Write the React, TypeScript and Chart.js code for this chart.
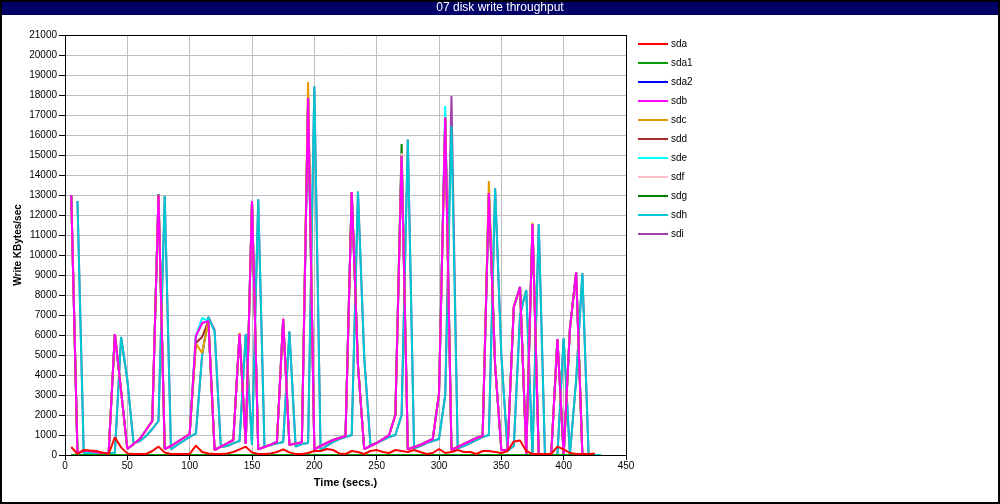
import React, { useEffect, useRef } from "react";
import { Chart, registerables } from "chart.js";
Chart.register(...registerables);

const TITLE = "07 disk write throughput";
const X_TITLE = "Time (secs.)";
const Y_TITLE = "Write KBytes/sec";
const FONT = "'Liberation Sans', Arial, Helvetica, sans-serif";

// sample times (secs) for the two groups of disks
const timesA = [
  5, 10, 15, 20, 25, 30, 35, 40, 45, 50,
  55, 60, 65, 70, 75, 80, 85, 90, 95, 100,
  105, 110, 115, 120, 125, 130, 135, 140, 145, 150,
  155, 160, 165, 170, 175, 180, 185, 190, 195, 200,
  205, 210, 215, 220, 225, 230, 235, 240, 245, 250,
  255, 260, 265, 270, 275, 280, 285, 290, 295, 300,
  305, 310, 315, 320, 325, 330, 335, 340, 345, 350,
  355, 360, 365, 370, 375, 380, 385, 390, 395, 400,
  405, 410, 415, 420, 425,
];
const timesB = [
  10, 15, 20, 25, 30, 35, 40, 45, 50, 55,
  60, 65, 70, 75, 80, 85, 90, 95, 100, 105,
  110, 115, 120, 125, 130, 135, 140, 145, 150, 155,
  160, 165, 170, 175, 180, 185, 190, 195, 200, 205,
  210, 215, 220, 225, 230, 235, 240, 245, 250, 255,
  260, 265, 270, 275, 280, 285, 290, 295, 300, 305,
  310, 315, 320, 325, 330, 335, 340, 345, 350, 355,
  360, 365, 370, 375, 380, 385, 390, 395, 400, 405,
  410, 415, 420, 425, 430,
];

const sda = [
  400, 50, 250, 220, 200, 120, 50, 880, 380, 80,
  50, 50, 50, 200, 420, 120, 50, 50, 50, 50,
  470, 150, 80, 50, 50, 80, 150, 280, 420, 120,
  50, 50, 80, 150, 280, 130, 50, 50, 100, 200,
  200, 300, 250, 80, 50, 200, 150, 50, 200, 250,
  150, 100, 250, 200, 150, 250, 150, 50, 100, 300,
  100, 150, 250, 150, 150, 50, 200, 200, 150, 100,
  200, 680, 720, 200, 50, 50, 50, 50, 420, 280,
  100, 50, 50, 50, 80,
];
const sda1 = [
  0, 0, 0, 0, 0, 0, 0, 0, 0, 0,
  0, 0, 0, 0, 0, 0, 0, 0, 0, 0,
  0, 0, 0, 0, 0, 0, 0, 0, 0, 0,
  0, 0, 0, 0, 0, 0, 0, 0, 0, 0,
  0, 0, 0, 0, 0, 0, 0, 0, 0, 0,
  0, 0, 0, 0, 0, 0, 0, 0, 0, 0,
  0, 0, 0, 0, 0, 0, 0, 0, 0, 0,
  0, 0, 0, 0, 0, 0, 0, 0, 0, 0,
  0, 0, 0, 0, 0,
];
const sda2 = [
  0, 0, 0, 0, 0, 0, 0, 0, 0, 0,
  0, 0, 0, 0, 0, 0, 0, 0, 0, 0,
  0, 0, 0, 0, 0, 0, 0, 0, 0, 0,
  0, 0, 0, 0, 0, 0, 0, 0, 0, 0,
  0, 0, 0, 0, 0, 0, 0, 0, 0, 0,
  0, 0, 0, 0, 0, 0, 0, 0, 0, 0,
  0, 0, 0, 0, 0, 0, 0, 0, 0, 0,
  0, 0, 0, 0, 0, 0, 0, 0, 0, 0,
  0, 0, 0, 0, 0,
];
const sdb = [
  13000, 100, 200, 200, 150, 100, 100, 6050, 3200, 300,
  550, 800, 1250, 1700, 13000, 300, 450, 650, 850, 1050,
  5950, 6600, 6700, 250, 420, 580, 750, 6050, 550, 12700,
  280, 400, 520, 650, 6800, 500, 580, 620, 17850, 280,
  450, 600, 750, 850, 950, 13150, 4500, 300, 450, 600,
  800, 1000, 2000, 14950, 280, 400, 500, 650, 800, 3050,
  16870, 250, 400, 550, 700, 850, 950, 13100, 4500, 250,
  250, 7400, 8400, 50, 11550, 0, 0, 0, 5800, 0,
  6300, 9130, 0, 0, 0,
];
const sdc = [
  13000, 100, 200, 200, 150, 100, 100, 6050, 3200, 300,
  550, 800, 1250, 1700, 13000, 300, 450, 650, 850, 1050,
  5580, 5100, 6700, 250, 420, 580, 750, 6100, 550, 12700,
  280, 400, 520, 650, 6800, 500, 580, 620, 18650, 280,
  450, 600, 750, 850, 950, 13150, 4500, 300, 450, 600,
  800, 1000, 2000, 14950, 280, 400, 500, 650, 800, 3050,
  16870, 250, 400, 550, 700, 850, 950, 13700, 4500, 250,
  250, 7400, 8400, 50, 11620, 0, 0, 0, 5800, 0,
  6300, 9130, 0, 0, 0,
];
const sdd = [
  13000, 100, 200, 200, 150, 100, 100, 6050, 3200, 300,
  550, 800, 1250, 1700, 13000, 300, 450, 650, 850, 1050,
  5600, 5900, 6700, 250, 420, 580, 750, 6050, 550, 12700,
  280, 400, 520, 650, 6800, 500, 580, 620, 17850, 280,
  450, 600, 750, 850, 950, 13150, 4500, 300, 450, 600,
  800, 1000, 2000, 14950, 280, 400, 500, 650, 800, 3050,
  16870, 250, 400, 550, 700, 850, 950, 13100, 4500, 250,
  250, 7400, 8400, 50, 11550, 0, 0, 0, 5800, 0,
  6300, 9130, 0, 0, 0,
];
const sde = [
  13000, 100, 200, 200, 150, 100, 100, 6050, 3200, 300,
  550, 800, 1250, 1700, 13000, 300, 450, 650, 850, 1050,
  5950, 6850, 6700, 250, 420, 580, 750, 6050, 550, 12700,
  280, 400, 520, 650, 6800, 500, 580, 620, 17850, 280,
  450, 600, 750, 850, 950, 13150, 4500, 300, 450, 600,
  800, 1000, 2000, 14950, 280, 400, 500, 650, 800, 3050,
  17450, 250, 400, 550, 700, 850, 950, 13100, 4500, 250,
  250, 7400, 8400, 50, 11550, 0, 0, 0, 5800, 0,
  6300, 9130, 0, 0, 0,
];
const sdf = [
  13000, 100, 200, 200, 150, 100, 100, 6050, 3200, 300,
  550, 800, 1250, 1700, 13000, 300, 450, 650, 850, 1050,
  5950, 6600, 6700, 250, 420, 580, 750, 6120, 550, 12700,
  280, 400, 520, 650, 6900, 500, 580, 620, 17850, 280,
  450, 600, 750, 850, 950, 13150, 4500, 300, 450, 600,
  800, 1000, 2000, 15100, 280, 400, 500, 650, 800, 3050,
  16870, 250, 400, 550, 700, 850, 950, 13100, 4500, 250,
  250, 7400, 8400, 50, 11550, 0, 0, 0, 5800, 0,
  6300, 9130, 0, 0, 0,
];
const sdg = [
  13000, 100, 200, 200, 150, 100, 100, 6050, 3200, 300,
  550, 800, 1250, 1700, 13050, 300, 450, 650, 850, 1050,
  5950, 6600, 6700, 250, 420, 580, 750, 6050, 550, 12700,
  280, 400, 520, 650, 6800, 500, 580, 620, 17850, 280,
  450, 600, 750, 850, 950, 13150, 4500, 300, 450, 600,
  800, 1000, 2000, 15550, 280, 400, 500, 650, 800, 3050,
  16870, 250, 400, 550, 700, 850, 950, 13100, 4500, 250,
  250, 7400, 8400, 50, 11550, 0, 0, 0, 5800, 0,
  6300, 9130, 0, 0, 0,
];
const sdh = [
  12700, 100, 100, 100, 100, 100, 100, 5900, 3750, 580,
  700, 950, 1300, 1700, 12950, 280, 500, 700, 900, 1080,
  5000, 6900, 6170, 400, 450, 580, 700, 6050, 500, 12780,
  420, 500, 580, 650, 6170, 420, 550, 600, 18420, 250,
  450, 650, 800, 900, 1000, 13170, 4900, 500, 600, 750,
  900, 1000, 2000, 15780, 330, 450, 600, 700, 800, 3000,
  16450, 330, 450, 600, 750, 900, 1000, 13330, 5000, 200,
  450, 7000, 8250, 0, 11530, 0, 0, 0, 5830, 0,
  3750, 9080, 0, 0, 0,
];
const sdi = [
  12700, 100, 100, 100, 100, 100, 100, 5900, 3750, 580,
  700, 950, 1300, 1700, 12950, 280, 500, 700, 900, 1080,
  5000, 6900, 6250, 400, 450, 580, 700, 6050, 500, 12780,
  420, 500, 580, 650, 6170, 420, 550, 600, 18420, 250,
  450, 650, 800, 900, 1000, 13170, 4900, 500, 600, 750,
  900, 1000, 2000, 15780, 330, 450, 600, 700, 800, 3000,
  17950, 330, 450, 600, 750, 900, 1000, 13330, 5000, 200,
  450, 7000, 8250, 0, 11530, 0, 0, 0, 5830, 0,
  3750, 9080, 0, 0, 0,
];

const seriesNames = ["sda", "sda1", "sda2", "sdb", "sdc", "sdd", "sde", "sdf", "sdg", "sdh", "sdi"];
const seriesValues = [sda, sda1, sda2, sdb, sdc, sdd, sde, sdf, sdg, sdh, sdi];
const seriesTimes = [timesA, timesA, timesA, timesA, timesA, timesA, timesA, timesA, timesA, timesB, timesB];
const seriesColors = [
  "#FF0000", "#00A000", "#0000FF", "#FF00FF", "#E69A00", "#A52A2A",
  "#00FFFF", "#FFC0CB", "#007F00", "#00C8D2", "#A040A8",
];

const frame = {
  id: "frame",
  beforeDraw(chart: any) {
    const { ctx, width, height } = chart;
    ctx.save();
    ctx.fillStyle = "#ffffff";
    ctx.fillRect(0, 0, width, height);
    ctx.fillStyle = "#000066";
    ctx.fillRect(0, 0, width, 15);
    ctx.fillStyle = "#ffffff";
    ctx.font = `12px ${FONT}`;
    ctx.textAlign = "center";
    ctx.textBaseline = "middle";
    ctx.fillText(TITLE, width / 2, 8);
    ctx.restore();
  },
  beforeDatasetsDraw(chart: any) {
    const { ctx, chartArea: a } = chart;
    ctx.save();
    ctx.strokeStyle = "#000";
    ctx.lineWidth = 1;
    ctx.strokeRect(Math.round(a.left) + 0.5, Math.round(a.top) + 0.5, Math.round(a.right - a.left), Math.round(a.bottom - a.top));
    ctx.restore();
  },
  afterDraw(chart: any) {
    const { ctx, width, height } = chart;
    ctx.save();
    ctx.font = `10px ${FONT}`;
    ctx.textAlign = "left";
    ctx.textBaseline = "middle";
    seriesNames.forEach((name, i) => {
      const y = 44 + i * 19;
      ctx.strokeStyle = seriesColors[i];
      ctx.lineWidth = 2;
      ctx.beginPath();
      ctx.moveTo(638, y);
      ctx.lineTo(668, y);
      ctx.stroke();
      ctx.fillStyle = "#000";
      ctx.fillText(name, 671, y + 0.5);
    });
    ctx.strokeStyle = "#000";
    ctx.lineWidth = 2;
    ctx.strokeRect(1, 1, width - 2, height - 2);
    ctx.restore();
  },
};

export default function App() {
  const ref = useRef<HTMLCanvasElement>(null);
  useEffect(() => {
    document.body.style.margin = "0";
    const canvas = ref.current!;
    const chart = new Chart(canvas, {
      type: "line",
      data: {
        datasets: seriesNames.map((name, i) => ({
          label: name,
          data: seriesTimes[i].map((t, j) => ({ x: t, y: seriesValues[i][j] })),
          borderColor: seriesColors[i],
          backgroundColor: seriesColors[i],
          borderWidth: 2,
          pointRadius: 0,
          tension: 0,
          fill: false,
          borderJoinStyle: "bevel" as const,
        })),
      },
      options: {
        animation: false,
        responsive: false,
        devicePixelRatio: 1,
        events: [],
        layout: { padding: { left: 0, right: 374, top: 35, bottom: 0 } },
        plugins: { legend: { display: false }, tooltip: { enabled: false } },
        scales: {
          x: {
            type: "linear",
            min: 0,
            max: 450,
            afterFit: (s: any) => { s.height = 49; },
            ticks: { stepSize: 50, color: "#000", font: { family: FONT, size: 10 }, padding: 0, maxRotation: 0, callback: (v: any) => String(v) },
            grid: { color: "#c0c0c0", lineWidth: 1, tickLength: 5, tickColor: "#000" },
            border: { display: false },
            title: { display: true, text: X_TITLE, color: "#000", font: { family: FONT, size: 11, weight: "bold" }, padding: { top: 0, bottom: 14 } },
          },
          y: {
            type: "linear",
            min: 0,
            max: 21000,
            afterFit: (s: any) => { s.width = 65; },
            ticks: { stepSize: 1000, color: "#000", font: { family: FONT, size: 10 }, padding: 2, callback: (v: any) => String(v) },
            grid: { color: "#c0c0c0", lineWidth: 1, tickLength: 6, tickColor: "#000" },
            border: { display: false },
            title: { display: true, text: Y_TITLE, color: "#000", font: { family: FONT, size: 10, weight: "bold" }, padding: { top: 12, bottom: 0 } },
          },
        },
      },
      plugins: [frame],
    });
    return () => chart.destroy();
  }, []);
  return (
    <div style={{ width: 1000, height: 504 }}>
      <canvas ref={ref} width={1000} height={504} style={{ display: "block" }} />
    </div>
  );
}
